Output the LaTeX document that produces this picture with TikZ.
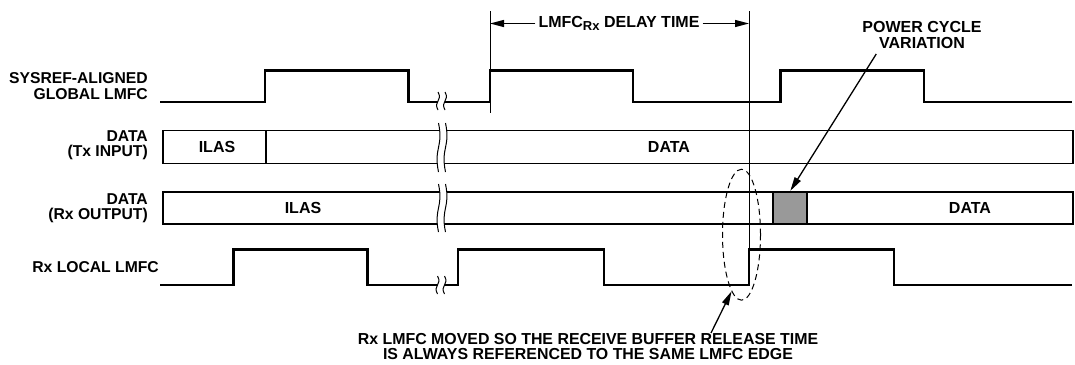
\documentclass[tikz,border=0pt]{standalone}
\usepackage{fontspec}
\setmainfont{Liberation Sans}
\usetikzlibrary{arrows.meta,shapes.geometric}

% x, top, bottom of a time break
\newcommand{\sigbreak}[3]{%
  \fill[white] ({#1-3.5},#2) .. controls +(5,{0.5*(#3-#2)}) and +(-5,{-0.5*(#3-#2)}) .. ({#1-3.5},#3)
    -- ({#1+3.5},#3) .. controls +(-5,{-0.5*(#3-#2)}) and +(5,{0.5*(#3-#2)}) .. ({#1+3.5},#2) -- cycle;
  \draw[brk] ({#1-3.5},#2) .. controls +(5,{0.5*(#3-#2)}) and +(-5,{-0.5*(#3-#2)}) .. ({#1-3.5},#3)
    ({#1+3.5},#2) .. controls +(5,{0.5*(#3-#2)}) and +(-5,{-0.5*(#3-#2)}) .. ({#1+3.5},#3);
}

\begin{document}
\begin{tikzpicture}[
  x=1pt, y=-1pt,
  font=\fontsize{16}{16}\selectfont\bfseries,
  >={Triangle[length=14pt,width=7pt]},
  sig/.style={line width=2.2pt},
  bus/.style={draw, line width=1.5pt, inner sep=0pt, minimum height=33pt},
  tick/.style={line width=1pt},
  brk/.style={line width=1pt},
  ptr/.style={->, line width=1.3pt},
  rowname/.style={anchor=east, align=right, inner sep=0pt, font=\fontsize{15.7}{15.5}\selectfont\bfseries},
  lbl/.style={inner sep=0pt, align=center},
  loopmark/.style={draw, ellipse, dash pattern=on 6pt off 4pt, line width=1pt, minimum width=38pt, minimum height=131pt, inner sep=0pt}
]
\useasboundingbox (0,0) rectangle (1075,364);

\node[rowname] (sysname) at (148,86) {SYSREF-ALIGNED\\GLOBAL LMFC};
\node[rowname] (txname) at (148,145) {DATA\\(Tx INPUT)};
\node[rowname] (rxname) at (148,208) {DATA\\(Rx OUTPUT)};
\node[rowname] (lmfcname) at (159,267) {Rx LOCAL LMFC};

% data buses
\node[bus, minimum width=910pt] (txbus) at (618,147) {};
\node[bus, minimum width=910pt, minimum height=32.3pt] (rxbus) at (618,208) {};
\draw[line width=1.5pt] (266,130.5) -- (266,163.5);
\node[bus, fill=black!40, line width=2pt, minimum width=34pt, minimum height=32.3pt] (pwrbox) at (790.3,208) {};

\node[lbl] (txilas) at (217,147) {ILAS};
\node[lbl] (txdata) at (669,147) {DATA};
\node[lbl] (rxilas) at (303,208) {ILAS};
\node[lbl] (rxdata) at (970,208) {DATA};

\sigbreak{442}{123}{172}
\sigbreak{442}{184}{232}

% clocks
\draw[sig] (160,101.7) -| (265,70.5) -| (408.4,101.7) -| (490,70.5) -| (633,101.7)
  -| (780.5,70.5) -| (924.3,101.7) -- (1072,101.7);
\draw[sig] (160,285) -| (233.5,249.5) -| (367.4,285) -| (458,249.5) -| (604,285)
  -| (749,249.5) -| (894,285) -- (1072,285);
\sigbreak{441.5}{92}{110}
\sigbreak{441}{276}{294}

% delay marker
\coordinate (gtick) at (490,11);
\coordinate (rxtick) at (749,11);
\draw[tick] (gtick) -- (490,112.7);
\draw[tick] (rxtick) -- (749,249.5);
\node[lbl, inner sep=3pt] (delay) at (619,23.5) {LMFC\raisebox{-0.45ex}{\fontsize{13}{13}\selectfont Rx} DELAY TIME};
\draw[ptr] (delay.west) -- (delay.west -| gtick);
\draw[ptr] (delay.east) -- (delay.east -| rxtick);

\node[lbl, anchor=north] (pwrnote) at (922,21) {POWER CYCLE\\VARIATION};
\draw[ptr] ([shift={(14,33)}]pwrnote.north west) -- (pwrbox.north);

\node[loopmark] (edgeloop) at (741.5,234.7) {};
\node[lbl, anchor=north, font=\fontsize{15.9}{15}\selectfont\bfseries] (movenote) at (588,333)
  {Rx LMFC MOVED SO THE RECEIVE BUFFER RELEASE TIME\\IS ALWAYS REFERENCED TO THE SAME LMFC EDGE};
\draw[ptr] ([xshift=123pt]movenote.north) -- (edgeloop.260);

\end{tikzpicture}
\end{document}
